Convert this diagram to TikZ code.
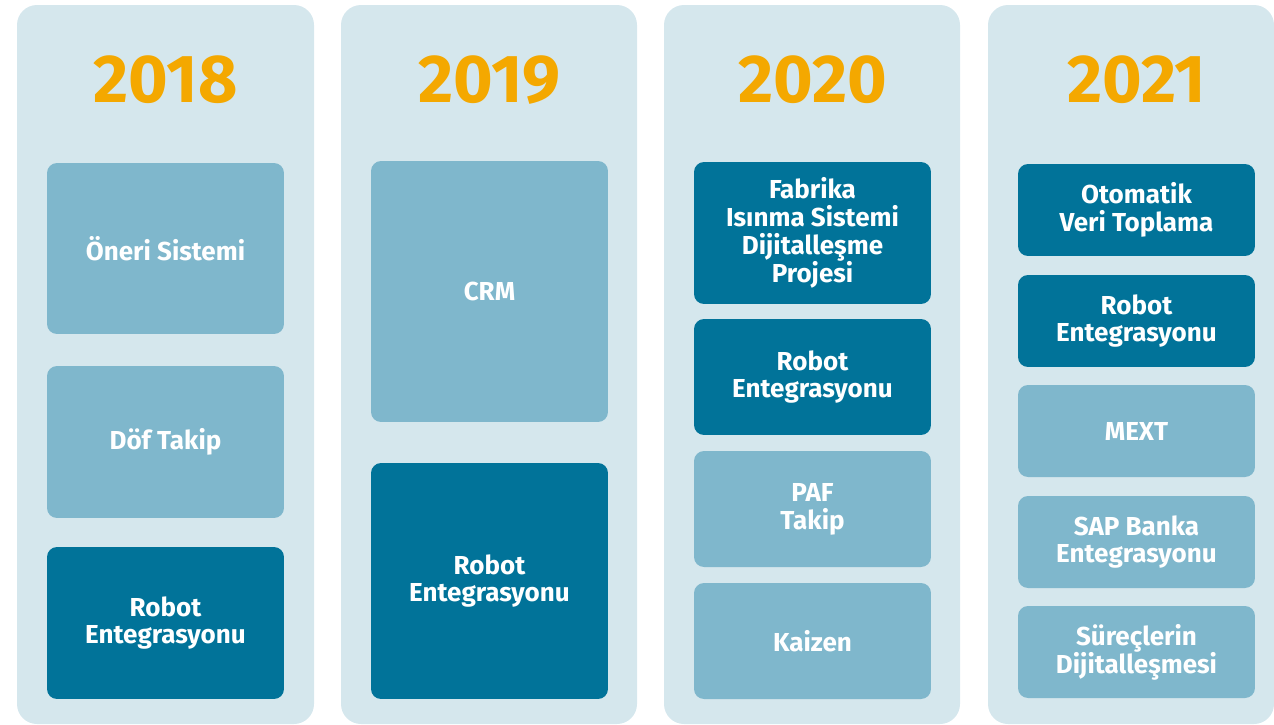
\documentclass[tikz,border=0pt]{standalone}
\usepackage{fontspec}
\setmainfont{Fira Sans}
\usepackage{tikz}

\definecolor{colbg}{HTML}{D5E7ED}
\definecolor{tilelight}{HTML}{7FB7CC}
\definecolor{tiledark}{HTML}{017399}
\definecolor{yearorange}{HTML}{F4A800}

\newcommand{\tilefont}{\fontsize{14.8}{15.9}\selectfont\bfseries}
\newcommand{\yearfont}{\fontsize{38.6}{40}\selectfont\bfseries}

\tikzset{
  column/.style={fill=colbg, rounded corners=0.4cm},
  yearlabel/.style={anchor=base, text=yearorange, font=\yearfont, inner sep=0},
  tile/.style={minimum width=4.74cm, inner sep=0, rounded corners=0.2cm,
    text=white, align=center, font=\tilefont},
  lighttile/.style={tile, fill=tilelight},
  darktile/.style={tile, fill=tiledark}
}

\begin{document}
\begin{tikzpicture}[x=0.02cm,y=-0.02cm]
\useasboundingbox (0,0) rectangle (1274,724);

% Column x centres
\def\ca{165.5}
\def\cb{489.5}
\def\cc{812.5}
\def\cd{1136.5}

% Background columns
\fill[column] (17,5) rectangle (314,724);
\fill[column] (341,5) rectangle (637,724);
\fill[column] (664,5) rectangle (960,724);
\fill[column] (988,5) rectangle (1274,724);

% Years
\node[yearlabel] (y2018) at (\ca,102) {2018};
\node[yearlabel] (y2019) at (\cb,102) {2019};
\node[yearlabel] (y2020) at (\cc,102) {2020};
\node[yearlabel] (y2021) at (\cd,102) {2021};

% 2018
\node[lighttile, minimum height=3.42cm] (oneri) at (\ca,248.5) {Öneri Sistemi};
\node[lighttile, minimum height=3.04cm] (dof) at (\ca,442) {Döf Takip};
\node[darktile, minimum height=3.04cm] (robota) at (\ca,623) {Robot\\Entegrasyonu};

% 2019
\node[lighttile, minimum height=5.22cm] (crm) at (\cb,291.5) {CRM};
\node[darktile, minimum height=4.72cm] (robotb) at (\cb,581) {Robot\\Entegrasyonu};

% 2020
\node[darktile, minimum height=2.84cm] (fabrika) at (\cc,233) {Fabrika\\Isınma Sistemi\\Dijitalleşme\\Projesi};
\node[darktile, minimum height=2.32cm] (robotc) at (\cc,377) {Robot\\Entegrasyonu};
\node[lighttile, minimum height=2.32cm] (paf) at (\cc,509) {PAF\\Takip};
\node[lighttile, minimum height=2.32cm] (kaizen) at (\cc,641) {Kaizen};

% 2021
\node[darktile, minimum height=1.84cm] (otomatik) at (\cd,210) {Otomatik\\Veri Toplama};
\node[darktile, minimum height=1.84cm] (robotd) at (\cd,321) {Robot\\Entegrasyonu};
\node[lighttile, minimum height=1.84cm] (mext) at (\cd,431) {MEXT};
\node[lighttile, minimum height=1.84cm] (sap) at (\cd,542) {SAP Banka\\Entegrasyonu};
\node[lighttile, minimum height=1.84cm] (surec) at (\cd,652) {Süreçlerin\\Dijitalleşmesi};

\end{tikzpicture}
\end{document}
